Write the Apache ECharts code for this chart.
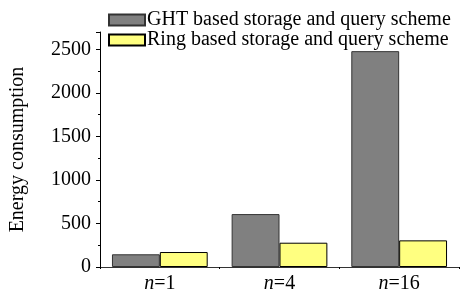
<!DOCTYPE html>
<html>
<head>
<meta charset="utf-8">
<script src="https://cdn.jsdelivr.net/npm/echarts@6/dist/echarts.min.js"></script>
<style>
  html, body { margin: 0; padding: 0; background: #fff; }
  #container { width: 461px; height: 296px; }
</style>
</head>
<body>
<div id="container"></div>
<script>
var categories = ['1', '4', '16'];
var ghtValues = [146, 608, 2480];
var ringValues = [172, 279, 306];
var seriesNames = ['GHT based storage and query scheme', 'Ring based storage and query scheme'];

var chart = echarts.init(document.getElementById('container'), null, { renderer: 'canvas' });
var font = '"Liberation Serif", "Times New Roman", serif';

var option = {
    backgroundColor: '#fff',
    animation: false,
    textStyle: { fontFamily: font, color: '#000' },
    legend: {
        orient: 'vertical',
        left: 103,
        top: 5,
        icon: 'rect',
        itemWidth: 36,
        itemHeight: 11,
        itemGap: 0,
        data: seriesNames,
        textStyle: { fontFamily: font, fontSize: 20, lineHeight: 20, color: '#000', padding: [0, 0, 0, -3] }
    },
    grid: { left: 97, right: 2, top: 32, bottom: 29 },
    xAxis: {
        type: 'category',
        data: categories,
        axisLine: { lineStyle: { color: '#333', width: 1 } },
        axisTick: { show: true, inside: false, length: 2, lineStyle: { color: '#000' } },
        axisLabel: {
            margin: 7,
            formatter: function (v) { return '{i|n}{r|=' + v + '}'; },
            rich: {
                i: { fontFamily: font, fontSize: 20, fontStyle: 'italic', color: '#000' },
                r: { fontFamily: font, fontSize: 20, color: '#000' }
            }
        }
    },
    yAxis: {
        type: 'value',
        min: 0,
        max: 2700,
        interval: 500,
        name: 'Energy consumption',
        nameLocation: 'middle',
        nameGap: 72,
        nameTextStyle: { fontFamily: font, fontSize: 20, color: '#000' },
        axisLine: { show: true, lineStyle: { color: '#000', width: 1 } },
        axisTick: { show: true, length: 4, lineStyle: { color: '#000' } },
        minorTick: { show: true, splitNumber: 2, length: 2, lineStyle: { color: '#000' } },
        splitLine: { show: false },
        axisLabel: {
            fontFamily: font,
            fontSize: 20,
            color: '#000',
            margin: 9,
            showMaxLabel: false,
            formatter: function (v) { return String(v); }
        }
    },
    series: [
        {
            name: seriesNames[0],
            type: 'bar',
            data: ghtValues,
            barGap: '0%',
            barCategoryGap: '20%',
            itemStyle: { color: '#808080', borderColor: '#333', borderWidth: 1 }
        },
        {
            name: seriesNames[1],
            type: 'bar',
            data: ringValues,
            barGap: '0%',
            barCategoryGap: '20%',
            itemStyle: { color: '#ffff80', borderColor: '#000', borderWidth: 1 }
        }
    ]
};

chart.setOption(option);
</script>
</body>
</html>
